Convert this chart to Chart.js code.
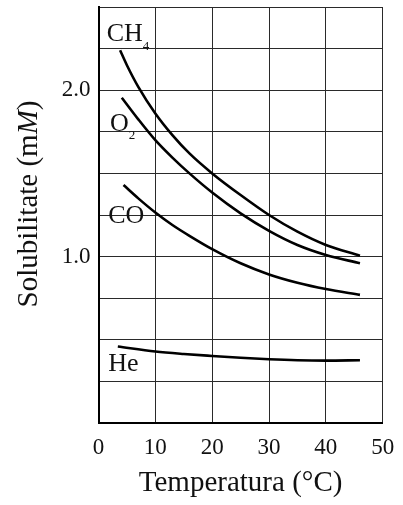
<!DOCTYPE html>
<html><head><meta charset="utf-8">
<script src="https://cdn.jsdelivr.net/npm/chart.js@4/dist/chart.umd.min.js"></script>
<style>html,body{margin:0;padding:0;background:#fff;overflow:hidden;}canvas{display:block;}</style>
</head><body>
<canvas id="c" width="403" height="505" style="width:403px;height:505px"></canvas>
<script>
// Data (temperature °C, solubility mM)
const ch4T = [3.8, 5, 7, 10, 13, 16, 20, 25, 30, 35, 40, 46];
const ch4S = [2.24, 2.15, 2.02, 1.86, 1.73, 1.62, 1.50, 1.37, 1.25, 1.15, 1.07, 1.005];
const o2T  = [4.1, 7, 10, 13, 16, 20, 25, 30, 35, 40, 46];
const o2S  = [1.955, 1.825, 1.70, 1.595, 1.50, 1.385, 1.26, 1.155, 1.07, 1.01, 0.96];
const coT  = [4.4, 7, 10, 13, 16, 20, 25, 30, 35, 40, 46];
const coS  = [1.43, 1.35, 1.265, 1.19, 1.125, 1.045, 0.96, 0.893, 0.843, 0.805, 0.77];
const heT  = [3.4, 10, 15, 20, 25, 30, 35, 40, 46];
const heS  = [0.46, 0.43, 0.415, 0.403, 0.392, 0.383, 0.377, 0.375, 0.377];

const xTickLabels = ['0', '10', '20', '30', '40', '50'];
const yTickLabels = ['1.0', '2.0'];

const labelNames = ['CH', 'O', 'CO', 'He'];
const labelSubs  = ['4', '2', '', ''];
const labelT     = [1.44, 2.02, 1.72, 1.72];
const labelS     = [2.293, 1.757, 1.204, 0.31];

const xTitle = 'Temperatura (°C)';
const yTitle = 'Solubilitate (mM)';

const SERIF = "'Liberation Serif', 'DejaVu Serif', serif";
Chart.defaults.font.family = SERIF;
Chart.defaults.color = '#111';

function pts(t, s) { return t.map((v, i) => ({x: v, y: s[i]})); }

function ds(t, s) {
  return {
    data: pts(t, s),
    borderColor: '#000',
    borderWidth: 2.6,
    pointRadius: 0,
    fill: false,
    cubicInterpolationMode: 'monotone'
  };
}

const labelPlugin = {
  id: 'gasLabels',
  afterDatasetsDraw(chart) {
    const {ctx, scales} = chart;
    ctx.save();
    ctx.fillStyle = '#111';
    ctx.textBaseline = 'alphabetic';
    ctx.textAlign = 'left';
    labelNames.forEach((name, i) => {
      const px = scales.x.getPixelForValue(labelT[i]);
      const py = scales.y.getPixelForValue(labelS[i]);
      ctx.font = '26px ' + SERIF;
      ctx.fillText(name, px, py);
      const w = ctx.measureText(name).width;
      if (labelSubs[i]) {
        ctx.font = '13px ' + SERIF;
        ctx.fillText(labelSubs[i], px + w, py + 8.5);
      }
    });
    ctx.restore();
  }
};

// y title drawn with an italic M
const yTitlePlugin = {
  id: 'yTitle',
  afterDraw(chart) {
    const {ctx} = chart;
    ctx.save();
    ctx.translate(29, 204);
    ctx.rotate(-Math.PI / 2);
    ctx.fillStyle = '#111';
    ctx.textBaseline = 'middle';
    const parts = [['Solubilitate (m', 'normal'], ['M', 'italic'], [')', 'normal']];
    let total = 0;
    parts.forEach(p => { ctx.font = p[1] + ' 29px ' + SERIF; total += ctx.measureText(p[0]).width; });
    let x = -total / 2;
    ctx.textAlign = 'left';
    parts.forEach(p => {
      ctx.font = p[1] + ' 29px ' + SERIF;
      ctx.fillText(p[0], x, 0);
      x += ctx.measureText(p[0]).width;
    });
    ctx.restore();
  }
};

new Chart(document.getElementById('c'), {
  type: 'line',
  data: {
    datasets: [ds(ch4T, ch4S), ds(o2T, o2S), ds(coT, coS), ds(heT, heS)]
  },
  options: {
    responsive: false,
    animation: false,
    layout: { padding: { top: 7, right: 20.3, left: 0, bottom: 0 } },
    plugins: { legend: { display: false }, tooltip: { enabled: false } },
    scales: {
      x: {
        type: 'linear',
        min: 0, max: 50,
        afterFit(s) { s.height = 82; s.paddingLeft = 0; s.paddingRight = 0; },
        ticks: {
          stepSize: 10,
          padding: 11,
          font: { size: 23 },
          color: '#111',
          callback: (v) => xTickLabels[Math.round(v / 10)]
        },
        grid: { color: '#2a2a2a', lineWidth: 1, drawTicks: false },
        border: { display: true, color: '#000', width: 2 },
        title: { display: true, text: xTitle, font: { size: 29 }, color: '#111', padding: { top: 0, bottom: 4 } }
      },
      y: {
        type: 'linear',
        min: 0, max: 2.5,
        afterFit(s) { s.width = 98.5; s.paddingTop = 0; s.paddingBottom = 0; },
        ticks: {
          stepSize: 0.25,
          padding: 8,
          font: { size: 23 },
          color: '#111',
          callback: (v) => (Math.abs(v - 1) < 1e-6 ? yTickLabels[0] : (Math.abs(v - 2) < 1e-6 ? yTickLabels[1] : ''))
        },
        grid: { color: '#2a2a2a', lineWidth: 1, drawTicks: false },
        border: { display: true, color: '#000', width: 2 },
        title: { display: false, text: yTitle }
      }
    }
  },
  plugins: [labelPlugin, yTitlePlugin]
});
</script>
</body></html>
